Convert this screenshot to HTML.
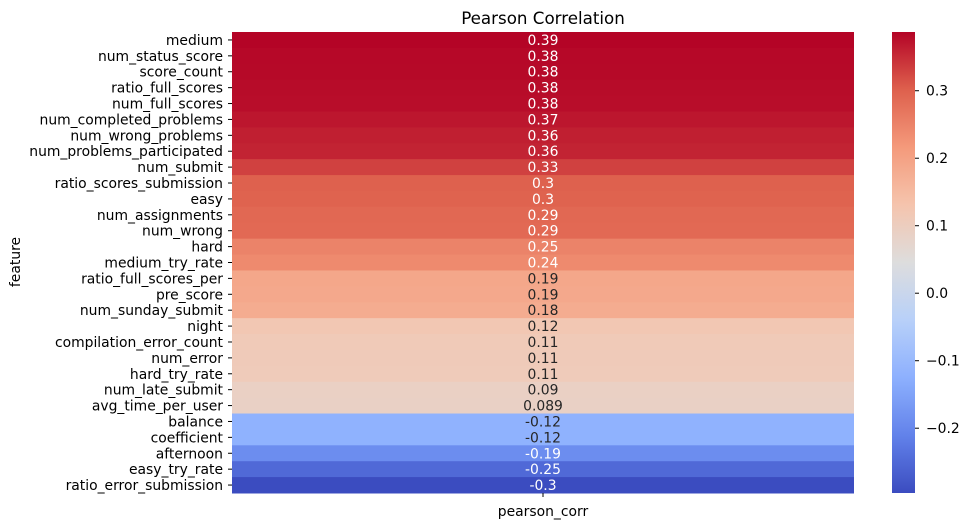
<!DOCTYPE html>
<html><head><meta charset="utf-8"><style>
html,body{margin:0;padding:0;background:#fff;}
svg{display:block;font-family:"DejaVu Sans","Liberation Sans",sans-serif;}
</style></head><body>
<svg id="chart" width="968" height="528" viewBox="0 0 968 528" xmlns="http://www.w3.org/2000/svg">
<defs><linearGradient id="cbgrad" x1="0" y1="1" x2="0" y2="0"></linearGradient></defs>
<text x="543" y="24" font-size="16.7" text-anchor="middle">Pearson Correlation</text>
<text transform="translate(20,262) rotate(-90)" font-size="13.9" text-anchor="middle">feature</text>
<text x="543" y="516" font-size="13.9" text-anchor="middle">pearson_corr</text>
<g id="cells"></g>
<g id="ylabels"></g>
<line x1="543" y1="493" x2="543" y2="497" stroke="#000" stroke-width="1"/>
<rect x="892" y="32" width="23" height="461" fill="url(#cbgrad)"/>
<g id="cbticks"></g>
</svg>
<script>
const features=["medium","num_status_score","score_count","ratio_full_scores","num_full_scores","num_completed_problems","num_wrong_problems","num_problems_participated","num_submit","ratio_scores_submission","easy","num_assignments","num_wrong","hard","medium_try_rate","ratio_full_scores_per","pre_score","num_sunday_submit","night","compilation_error_count","num_error","hard_try_rate","num_late_submit","avg_time_per_user","balance","coefficient","afternoon","easy_try_rate","ratio_error_submission"];
const values=[0.387,0.383,0.382,0.38,0.379,0.37,0.362,0.358,0.33,0.3,0.297,0.29,0.288,0.25,0.24,0.19,0.188,0.18,0.12,0.112,0.11,0.108,0.09,0.089,-0.12,-0.121,-0.19,-0.25,-0.296];
const labels=["0.39","0.38","0.38","0.38","0.38","0.37","0.36","0.36","0.33","0.3","0.3","0.29","0.29","0.25","0.24","0.19","0.19","0.18","0.12","0.11","0.11","0.11","0.09","0.089","-0.12","-0.12","-0.19","-0.25","-0.3"];
const cbTicks=[0.3,0.2,0.1,0.0,-0.1,-0.2];
const cbTickLabels=["0.3","0.2","0.1","0.0","\u22120.1","\u22120.2"];
const vmin=-0.296, vmax=0.387;
const cw=[[59,76,192],[98,130,234],[141,176,254],[184,208,249],[221,221,221],[245,196,173],[244,154,123],[222,96,77],[180,4,38]];
function cmap(t){t=Math.max(0,Math.min(1,t));const p=t*8,i=Math.min(7,Math.floor(p)),f=p-i;return cw[i].map((c,k)=>Math.round(c+(cw[i+1][k]-c)*f));}
function lum(c){const l=c.map(v=>{v/=255;return v<=0.03928?v/12.92:Math.pow((v+0.055)/1.055,2.4);});return 0.2126*l[0]+0.7152*l[1]+0.0722*l[2];}
const NS="http://www.w3.org/2000/svg";
const x0=232,x1=854,y0=32,y1=493;
const rowH=(y1-y0)/features.length;
const yRow=i=>y0+i*rowH;
const cbY=v=>y1-(v-vmin)/(vmax-vmin)*(y1-y0);
const cells=document.getElementById('cells'),yl=document.getElementById('ylabels');
features.forEach((f,i)=>{
  const c=cmap((values[i]-vmin)/(vmax-vmin));
  const r=document.createElementNS(NS,'rect');
  
  
  r.setAttribute('x',x0);r.setAttribute('y',yRow(i));r.setAttribute('width',x1-x0);r.setAttribute('height',rowH+0.5);
  r.setAttribute('fill','rgb('+c.join(',')+')');
  cells.appendChild(r);
  const t=document.createElementNS(NS,'text');
  
  
  t.setAttribute('x',543);t.setAttribute('y',yRow(i)+rowH/2+5);t.setAttribute('font-size','13.9');t.setAttribute('text-anchor','middle');
  t.setAttribute('fill',lum(c)>0.408?'#262626':'#fff');
  t.textContent=labels[i];cells.appendChild(t);
  const l=document.createElementNS(NS,'text');
  
  
  l.setAttribute('x',223);l.setAttribute('y',yRow(i)+rowH/2+5);l.setAttribute('font-size','13.9');l.setAttribute('text-anchor','end');
  l.textContent=f;yl.appendChild(l);
  const tk=document.createElementNS(NS,'line');
  
  
  tk.setAttribute('x1',228);tk.setAttribute('x2',232);tk.setAttribute('y1',yRow(i)+rowH/2);tk.setAttribute('y2',yRow(i)+rowH/2);tk.setAttribute('stroke','#000');
  yl.appendChild(tk);
});
const g=document.getElementById('cbgrad');
for(let k=0;k<=40;k++){const s=document.createElementNS(NS,'stop');s.setAttribute('offset',k/40);s.setAttribute('stop-color','rgb('+cmap(k/40).join(',')+')');g.appendChild(s);}
const cbt=document.getElementById('cbticks');
cbTicks.forEach((v,i)=>{
  const y=cbY(v);
  const ln=document.createElementNS(NS,'line');
  
  
  ln.setAttribute('x1',915);ln.setAttribute('x2',919);ln.setAttribute('y1',y);ln.setAttribute('y2',y);ln.setAttribute('stroke','#000');
  cbt.appendChild(ln);
  const t=document.createElementNS(NS,'text');
  
  
  t.setAttribute('x',926);t.setAttribute('y',y+5);t.setAttribute('font-size','13.9');
  t.textContent=cbTickLabels[i];cbt.appendChild(t);
});
</script>
</body></html>
